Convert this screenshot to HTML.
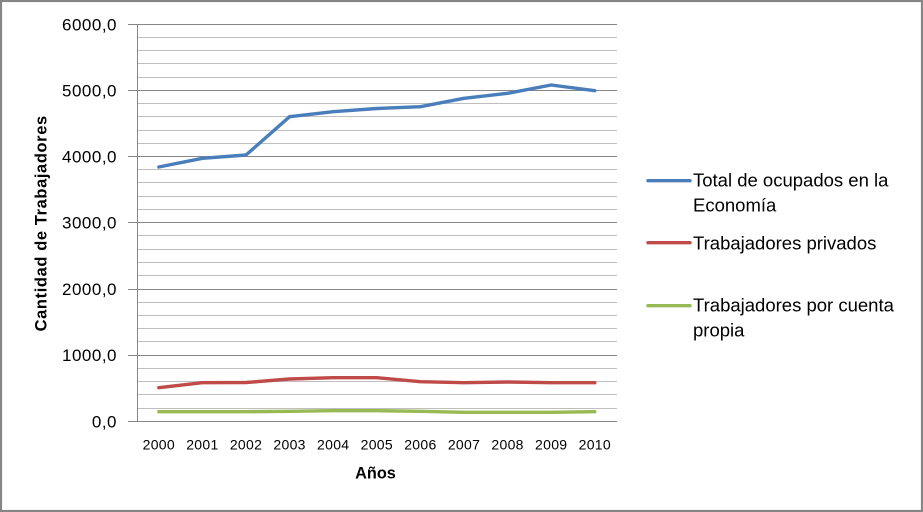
<!DOCTYPE html>
<html>
<head>
<meta charset="utf-8">
<style>
html,body{margin:0;padding:0;background:#fff;}
svg{display:block;}
text{font-family:"Liberation Sans",sans-serif;fill:#000;}
</style>
</head>
<body>
<svg width="923" height="512" viewBox="0 0 923 512" xmlns="http://www.w3.org/2000/svg">
<rect x="0" y="0" width="923" height="512" fill="#fff"/>
<!-- minor gridlines -->
<g stroke="#bfbfbf" stroke-width="1" shape-rendering="crispEdges">
<line x1="137" x2="617" y1="37.5" y2="37.5"/><line x1="137" x2="617" y1="50.5" y2="50.5"/><line x1="137" x2="617" y1="63.5" y2="63.5"/><line x1="137" x2="617" y1="77.5" y2="77.5"/>
<line x1="137" x2="617" y1="103.5" y2="103.5"/><line x1="137" x2="617" y1="116.5" y2="116.5"/><line x1="137" x2="617" y1="130.5" y2="130.5"/><line x1="137" x2="617" y1="143.5" y2="143.5"/>
<line x1="137" x2="617" y1="169.5" y2="169.5"/><line x1="137" x2="617" y1="182.5" y2="182.5"/><line x1="137" x2="617" y1="196.5" y2="196.5"/><line x1="137" x2="617" y1="209.5" y2="209.5"/>
<line x1="137" x2="617" y1="235.5" y2="235.5"/><line x1="137" x2="617" y1="249.5" y2="249.5"/><line x1="137" x2="617" y1="262.5" y2="262.5"/><line x1="137" x2="617" y1="275.5" y2="275.5"/>
<line x1="137" x2="617" y1="302.5" y2="302.5"/><line x1="137" x2="617" y1="315.5" y2="315.5"/><line x1="137" x2="617" y1="328.5" y2="328.5"/><line x1="137" x2="617" y1="341.5" y2="341.5"/>
<line x1="137" x2="617" y1="368.5" y2="368.5"/><line x1="137" x2="617" y1="381.5" y2="381.5"/><line x1="137" x2="617" y1="394.5" y2="394.5"/><line x1="137" x2="617" y1="408.5" y2="408.5"/>
</g>
<!-- major gridlines + ticks -->
<g stroke="#868686" stroke-width="1" shape-rendering="crispEdges">
<line x1="128" x2="617" y1="24.5" y2="24.5"/>
<line x1="128" x2="617" y1="90.5" y2="90.5"/>
<line x1="128" x2="617" y1="156.5" y2="156.5"/>
<line x1="128" x2="617" y1="222.5" y2="222.5"/>
<line x1="128" x2="617" y1="289.5" y2="289.5"/>
<line x1="128" x2="617" y1="355.5" y2="355.5"/>
<line x1="128" x2="617" y1="421.5" y2="421.5"/>
<line x1="137.5" x2="137.5" y1="24" y2="422"/>
</g>
<!-- series -->
<g fill="none" stroke-width="3.4" stroke-linecap="round" stroke-linejoin="round">
<polyline stroke="#4a7ebb" points="158.8,167 202.4,158.3 246,155 289.6,116.7 333.2,111.7 376.8,108.5 420.4,106.7 464,98.3 507.6,93.3 551.2,85 594.8,90.7"/>
<polyline stroke="#be4b48" points="158.8,387.7 202.4,382.7 246,382.5 289.6,379 333.2,377.7 376.8,377.7 420.4,381.7 464,382.7 507.6,382 551.2,382.7 594.8,382.7"/>
<polyline stroke="#98b954" points="158.8,411.7 202.4,411.7 246,411.7 289.6,411.3 333.2,410.7 376.8,410.7 420.4,411.3 464,412.3 507.6,412.3 551.2,412.3 594.8,411.7"/>
</g>
<!-- y labels -->
<g font-size="17" text-anchor="end" letter-spacing="0.5">
<text x="117" y="30.5">6000,0</text>
<text x="117" y="96.5">5000,0</text>
<text x="117" y="162.5">4000,0</text>
<text x="117" y="228.5">3000,0</text>
<text x="117" y="295">2000,0</text>
<text x="117" y="361">1000,0</text>
<text x="117" y="427.5">0,0</text>
</g>
<!-- x labels -->
<g font-size="14" text-anchor="middle" letter-spacing="0.3">
<text x="158.8" y="449.5">2000</text>
<text x="202.4" y="449.5">2001</text>
<text x="246" y="449.5">2002</text>
<text x="289.6" y="449.5">2003</text>
<text x="333.2" y="449.5">2004</text>
<text x="376.8" y="449.5">2005</text>
<text x="420.4" y="449.5">2006</text>
<text x="464" y="449.5">2007</text>
<text x="507.6" y="449.5">2008</text>
<text x="551.2" y="449.5">2009</text>
<text x="594.8" y="449.5">2010</text>
</g>
<text x="375.5" y="478.3" font-size="16.3" font-weight="bold" text-anchor="middle">Años</text>
<text transform="translate(46.7,223.3) rotate(-90)" font-size="16.5" font-weight="bold" text-anchor="middle" letter-spacing="0.6">Cantidad de Trabajadores</text>
<!-- legend -->
<g stroke-width="3.4" stroke-linecap="round">
<line x1="648" x2="690" y1="180.7" y2="180.7" stroke="#4a7ebb"/>
<line x1="648" x2="690" y1="242.7" y2="242.7" stroke="#be4b48"/>
<line x1="648" x2="690" y1="305.7" y2="305.7" stroke="#98b954"/>
</g>
<g font-size="18.5">
<text x="693" y="186.7">Total de ocupados en la</text>
<text x="693" y="211.7">Economía</text>
<text x="693" y="249.3">Trabajadores privados</text>
<text x="693" y="311.7">Trabajadores por cuenta</text>
<text x="693" y="336.7">propia</text>
</g>
<!-- border -->
<rect x="1" y="1" width="921" height="510" fill="none" stroke="#868686" stroke-width="2.2"/>
</svg>
</body>
</html>
